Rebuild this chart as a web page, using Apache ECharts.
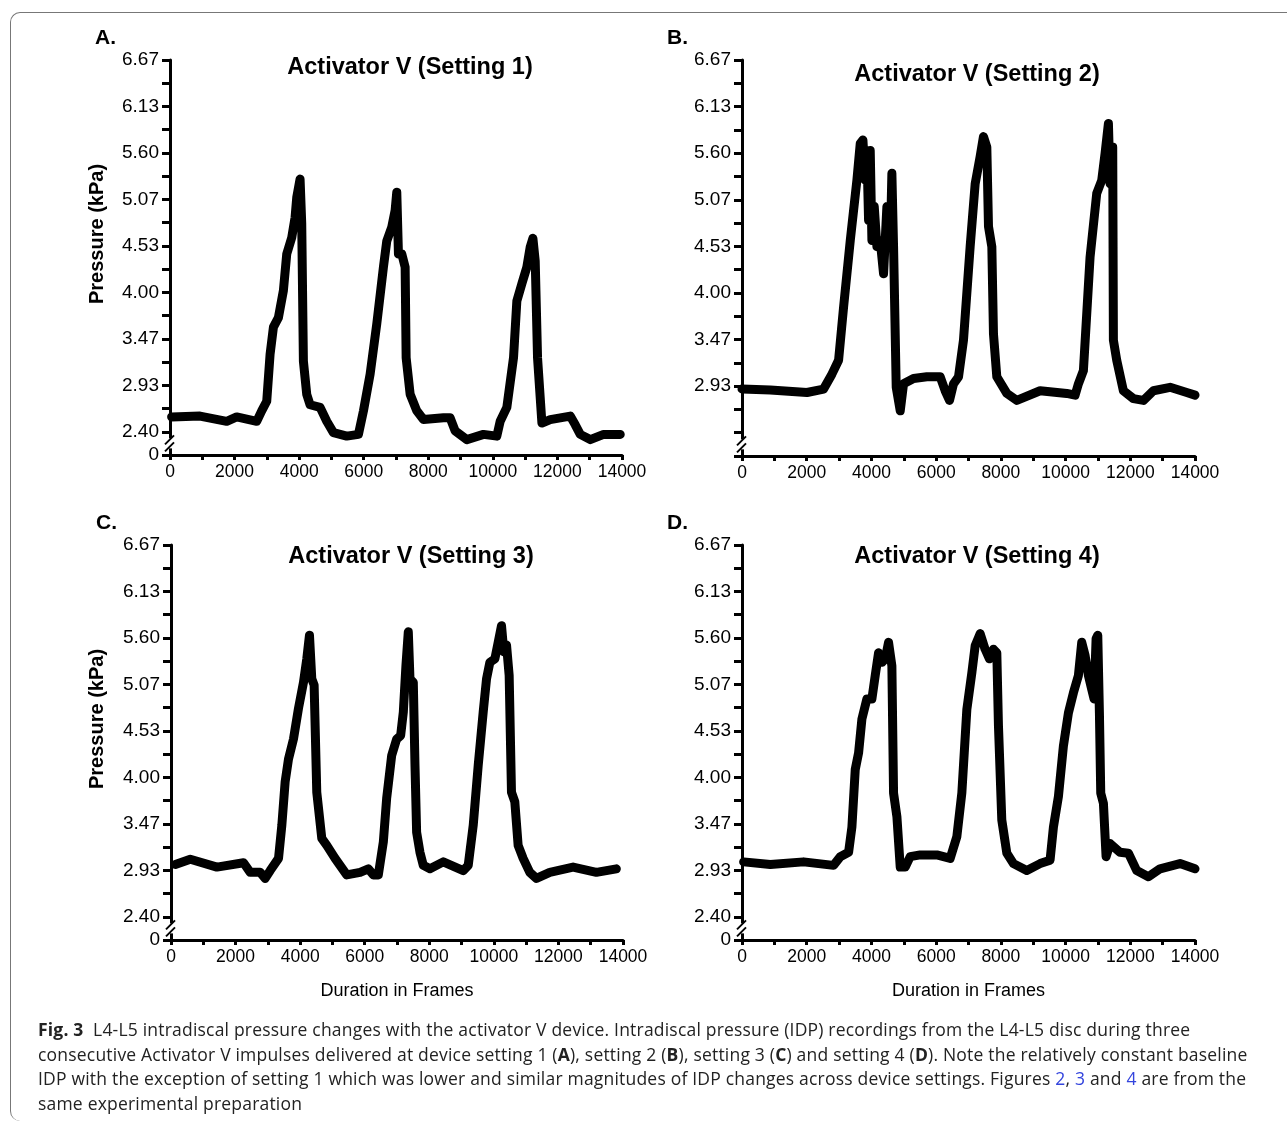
<!DOCTYPE html>
<html>
<head>
    <meta charset="utf-8">
    <style type="text/css">
        html, body { margin: 0; padding: 0; background: #fff; }
        #frame { position: absolute; left: 10px; top: 12px; width: 1300px; height: 1108px;
                 border-top: 1px solid #777; border-left: 1px solid #777;
                 border-top-left-radius: 10px; border-bottom-left-radius: 10px; }
        #main { position: absolute; left: 0; top: 0; width: 1287px; height: 1124px; }
        #caption { position: absolute; left: 38px; top: 1017px; font-family: "Open Sans", "Noto Sans", sans-serif;
                   font-size: 17.5px; line-height: 24.5px; color: #222; white-space: nowrap; letter-spacing: 0.2px; }
        #caption .lk { color: #3344dd; }
    </style>
    <script src="https://cdn.jsdelivr.net/npm/echarts@6.0.0/dist/echarts.min.js"></script>
</head>
<body>
    <div id="frame"></div>
    <!-- 画板 -->
    <div id="main"></div>
    <div id="caption"><b>Fig. 3</b>&nbsp; L4-L5 intradiscal pressure changes with the activator V device. Intradiscal pressure (IDP) recordings from the L4-L5 disc during three<br>consecutive Activator V impulses delivered at device setting 1 (<b>A</b>), setting 2 (<b>B</b>), setting 3 (<b>C</b>) and setting 4 (<b>D</b>). Note the relatively constant baseline<br>IDP with the exception of setting 1 which was lower and similar magnitudes of IDP changes across device settings. Figures <span class="lk">2</span>, <span class="lk">3</span> and <span class="lk">4</span> are from the<br>same experimental preparation</div>

    <script type="text/javascript">
        // 数据
        var titles = ['Activator V (Setting 1)', 'Activator V (Setting 2)', 'Activator V (Setting 3)', 'Activator V (Setting 4)'];
        var letters = ['A.', 'B.', 'C.', 'D.'];
        var xTicks = [0, 2000, 4000, 6000, 8000, 10000, 12000, 14000];
        var yTickLabels = ['2.40', '2.93', '3.47', '4.00', '4.53', '5.07', '5.60', '6.13', '6.67'];

        var framesA = [50, 930, 1756, 2066, 2686, 2840, 2996, 3100, 3203, 3358, 3512, 3616, 3771, 3874, 3926, 4029, 4080, 4132, 4235, 4339,
            4649, 4855, 5062, 5475, 5837, 5992, 6198, 6405, 6611, 6715, 6870, 6973, 7024, 7076, 7180, 7283, 7314, 7438, 7644, 7851,
            8471, 8677, 8832, 9194, 9710, 10123, 10227, 10433, 10640, 10743, 10898, 11053, 11157, 11240, 11312, 11384, 11519, 11777,
            12397, 12552, 12707, 13017, 13430, 13946];
        var pressureA = [2.57, 2.58, 2.52, 2.57, 2.52, 2.64, 2.75, 3.29, 3.60, 3.71, 4.02, 4.44, 4.63, 4.86, 5.09, 5.30, 4.79, 3.21, 2.83, 2.71,
            2.68, 2.52, 2.39, 2.35, 2.37, 2.64, 3.06, 3.64, 4.29, 4.59, 4.75, 4.94, 5.15, 4.44, 4.44, 4.29, 3.25, 2.83, 2.64, 2.54,
            2.56, 2.56, 2.41, 2.31, 2.37, 2.35, 2.52, 2.68, 3.25, 3.90, 4.10, 4.29, 4.52, 4.62, 4.36, 3.25, 2.50, 2.54,
            2.58, 2.48, 2.37, 2.31, 2.37, 2.37];

        var framesB = [0, 875, 2007, 2522, 2779, 2985, 3140, 3346, 3551, 3654, 3737, 3809, 3860, 3912, 3963, 4015, 4087, 4169, 4272, 4375,
            4478, 4581, 4632, 4684, 4766, 4890, 4993, 5301, 5713, 6125, 6279, 6413, 6537, 6691, 6845, 7051, 7206, 7360, 7463, 7566,
            7618, 7721, 7772, 7875, 8184, 8493, 9213, 10037, 10294, 10397, 10551, 10757, 10963, 11118, 11221, 11324, 11375, 11457,
            11478, 11581, 11787, 12096, 12405, 12714, 13230, 13745, 14000];
        var pressureB = [2.90, 2.89, 2.86, 2.90, 3.07, 3.23, 3.84, 4.60, 5.29, 5.71, 5.75, 5.29, 5.63, 4.83, 5.63, 4.60, 4.99, 4.53, 4.60, 4.22,
            4.99, 4.53, 5.37, 4.53, 2.92, 2.65, 2.96, 3.02, 3.04, 3.04, 2.88, 2.77, 2.96, 3.04, 3.46, 4.53, 5.25, 5.56, 5.79, 5.67,
            4.76, 4.53, 3.53, 3.04, 2.85, 2.77, 2.88, 2.85, 2.83, 2.96, 3.11, 4.41, 5.14, 5.29, 5.60, 5.94, 5.25, 5.67,
            3.46, 3.23, 2.88, 2.79, 2.77, 2.88, 2.92, 2.86, 2.83];

        var framesC = [134, 598, 1423, 2247, 2454, 2763, 2917, 3072, 3330, 3433, 3536, 3639, 3794, 3948, 4103, 4206, 4289, 4361, 4433, 4515,
            4670, 4825, 5082, 5443, 5856, 6113, 6268, 6422, 6577, 6680, 6835, 6990, 7113, 7196, 7278, 7350, 7402, 7505, 7557, 7608,
            7711, 7814, 8021, 8433, 9052, 9206, 9361, 9516, 9670, 9773, 9876, 10031, 10134, 10237, 10309, 10392, 10474, 10546,
            10649, 10752, 10907, 11113, 11319, 11732, 12454, 13175, 13794];
        var pressureC = [3.00, 3.06, 2.97, 3.02, 2.91, 2.91, 2.84, 2.93, 3.07, 3.45, 3.95, 4.21, 4.44, 4.79, 5.09, 5.36, 5.63, 5.13, 5.06, 3.83,
            3.30, 3.22, 3.07, 2.88, 2.91, 2.95, 2.88, 2.88, 3.26, 3.76, 4.25, 4.44, 4.48, 4.75, 5.29, 5.67, 5.13, 5.09, 4.14, 3.37,
            3.14, 2.99, 2.95, 3.03, 2.93, 2.99, 3.45, 4.14, 4.75, 5.13, 5.32, 5.36, 5.55, 5.74, 5.44, 5.52, 5.17, 3.83,
            3.72, 3.22, 3.07, 2.91, 2.84, 2.91, 2.97, 2.91, 2.95];

        var framesD = [51, 875, 1904, 2831, 3037, 3294, 3397, 3500, 3603, 3706, 3860, 4015, 4118, 4221, 4324, 4426, 4529, 4632, 4684, 4787,
            4890, 5044, 5198, 5507, 6022, 6434, 6640, 6794, 6949, 7103, 7206, 7360, 7514, 7648, 7772, 7875, 7926, 8029, 8184, 8390,
            8801, 9213, 9521, 9625, 9779, 9933, 10088, 10242, 10397, 10500, 10603, 10706, 10809, 10881, 10943, 10995, 11046, 11087,
            11170, 11252, 11375, 11684, 11942, 12199, 12559, 12919, 13537, 14000];
        var pressureD = [3.03, 3.00, 3.03, 2.99, 3.09, 3.14, 3.43, 4.09, 4.28, 4.67, 4.90, 4.90, 5.17, 5.43, 5.32, 5.36, 5.55, 5.28, 3.82, 3.55,
            2.97, 2.97, 3.09, 3.11, 3.11, 3.07, 3.32, 3.82, 4.78, 5.20, 5.51, 5.65, 5.47, 5.36, 5.47, 5.43, 4.59, 3.51, 3.13, 3.01,
            2.93, 3.01, 3.05, 3.43, 3.78, 4.36, 4.74, 4.97, 5.17, 5.55, 5.40, 5.17, 5.01, 4.90, 5.59, 5.63, 4.74, 3.82,
            3.70, 3.09, 3.24, 3.14, 3.13, 2.93, 2.86, 2.95, 3.01, 2.95];

        var yMin = 32 / 15, yMax = 100 / 15, yStep = 4 / 15;   // 下端 "0"（断轴）
        var fontFam = '"Liberation Sans", Arial, sans-serif';

        function zip(xs, ys) {
            var out = [];
            for (var i = 0; i < xs.length; i++) out.push([xs[i], ys[i]]);
            return out;
        }

        var panels = [
            { frames: framesA, values: pressureA, left: 170, top: 60, width: 452, height: 395, lowLabels: true, yName: true, xName: false, tx: 410, ty: 68 },
            { frames: framesB, values: pressureB, left: 742, top: 60, width: 453, height: 396, lowLabels: false, yName: false, xName: false, tx: 977, ty: 75 },
            { frames: framesC, values: pressureC, left: 171, top: 545, width: 452, height: 395, lowLabels: true, yName: true, xName: true, tx: 411, ty: 557 },
            { frames: framesD, values: pressureD, left: 742, top: 545, width: 453, height: 395, lowLabels: true, yName: false, xName: true, tx: 977, ty: 557 }
        ];

        var grids = [], xAxes = [], yAxes = [], series = [], graphics = [];
        panels.forEach(function (p, i) {
            grids.push({ left: p.left, top: p.top, width: p.width, height: p.height });
            xAxes.push({
                type: 'value', gridIndex: i, min: 0, max: 14000, interval: 1000,
                splitLine: { show: false },
                axisLine: { onZero: false, lineStyle: { color: '#000', width: 3 } },
                axisTick: { length: 5, lineStyle: { color: '#000', width: 3 } },
                axisLabel: {
                    color: '#000', fontSize: 17.5, fontFamily: fontFam, margin: 8,
                    formatter: function (v) { return xTicks.indexOf(v) >= 0 ? String(v) : ''; }
                },
                name: p.xName ? 'Duration in Frames' : '', nameLocation: 'middle', nameGap: 42,
                nameTextStyle: { color: '#000', fontSize: 18, fontFamily: fontFam }
            });
            yAxes.push({
                type: 'value', gridIndex: i, min: yMin, max: yMax, interval: yStep,
                splitLine: { show: false },
                axisLine: { show: true, lineStyle: { color: '#000', width: 3 } },
                axisTick: { show: true, length: 8, lineStyle: { color: '#000', width: 3 } },
                axisLabel: {
                    color: '#000', fontSize: 19, fontFamily: fontFam, margin: 11,
                    formatter: (function (low) {
                        return function (v) {
                            var k = Math.round((v - yMin) / yStep);
                            if (k === 0) return low ? '0' : '';
                            if (k % 2 === 0) return '';
                            if (k === 1 && !low) return '';
                            return yTickLabels[(k - 1) / 2];
                        };
                    })(p.lowLabels)
                }
            });
            series.push({
                type: 'line', xAxisIndex: i, yAxisIndex: i, data: zip(p.frames, p.values),
                showSymbol: false, silent: true,
                lineStyle: { color: '#000', width: 9, join: 'round', cap: 'round' }
            });
            // 标题
            graphics.push({
                type: 'text', x: p.tx, y: p.ty,
                style: { text: titles[i], font: 'bold 23.5px ' + fontFam, fill: '#000', align: 'center', verticalAlign: 'middle' }
            });
            graphics.push({
                type: 'text', x: p.left - 75, y: p.top - 22,
                style: { text: letters[i], font: 'bold 21px ' + fontFam, fill: '#000', verticalAlign: 'middle' }
            });
            if (p.yName) {
                graphics.push({
                    type: 'text', x: 97, y: p.top + 174, rotation: Math.PI / 2,
                    style: { text: 'Pressure (kPa)', font: 'bold 20px ' + fontFam, fill: '#000', align: 'center', verticalAlign: 'middle' }
                });
            }
        });

        var chart = echarts.init(document.getElementById('main'));
        chart.setOption({
            animation: false,
            backgroundColor: 'transparent',
            grid: grids, xAxis: xAxes, yAxis: yAxes, series: series, graphic: graphics
        });

        // 断轴标记
        var breaks = [];
        panels.forEach(function (p, i) {
            var pt = chart.convertToPixel({ gridIndex: i }, [0, (yMin + 2.40) / 2]);
            breaks.push({ type: 'rect', shape: { x: pt[0] - 3, y: pt[1] - 5, width: 6, height: 10 }, style: { fill: '#fff' }, z: 100 });
            breaks.push({ type: 'line', shape: { x1: pt[0] - 5, y1: pt[1] + 1, x2: pt[0] + 4, y2: pt[1] - 8 }, style: { stroke: '#000', lineWidth: 2 }, z: 101 });
            breaks.push({ type: 'line', shape: { x1: pt[0] - 5, y1: pt[1] + 8, x2: pt[0] + 4, y2: pt[1] - 1 }, style: { stroke: '#000', lineWidth: 2 }, z: 101 });
        });
        chart.setOption({ graphic: graphics.concat(breaks) });
    </script>
</body>
</html>
